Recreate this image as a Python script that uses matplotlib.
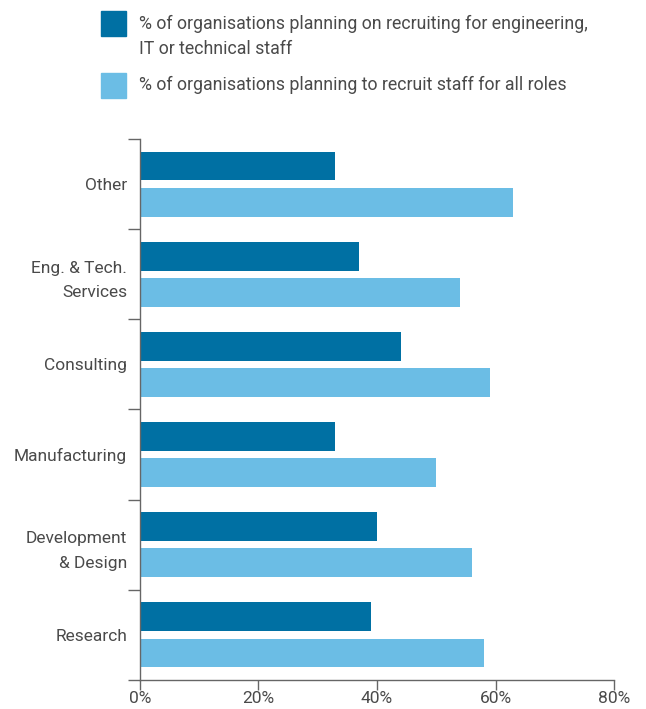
import numpy as np
import matplotlib
matplotlib.use("Agg")
import matplotlib.pyplot as plt
from matplotlib.patches import Rectangle

plt.rcParams["font.family"] = ["Roboto", "DejaVu Sans"]

# bottom to top
sectors = ["Research", "Development\n& Design", "Manufacturing", "Consulting",
           "Eng. & Tech.\nServices", "Other"]
tech_staff = [39, 40, 33, 44, 37, 33]
all_roles = [58, 56, 50, 59, 54, 63]
x_ticks = [0, 20, 40, 60, 80]

label_tech = ["% of organisations planning on recruiting for engineering,",
              "IT or technical staff"]
label_all = "% of organisations planning to recruit staff for all roles"

DARK = "#0070a3"
LIGHT = "#6bbde5"
AXIS = "#666666"
TEXT = "#4a4a4a"

fig = plt.figure(figsize=(6.46, 7.09), dpi=100)
ax = fig.add_axes([0.2163, 0.0409, 0.7346, 0.7631])

y = np.arange(len(sectors))
h = 0.32
ax.barh(y + 0.2, tech_staff, height=h, color=DARK)
ax.barh(y - 0.2, all_roles, height=h, color=LIGHT)

ax.set_xlim(0, 80)
ax.set_ylim(-0.5, len(sectors) - 0.5)
ax.set_xticks(x_ticks)
ax.set_xticklabels([f"{v}%" for v in x_ticks])
ax.set_yticks(y)
ax.set_yticklabels(sectors, ha="right", linespacing=1.8)
# tick marks sit between the category bands
ax.set_yticks(np.arange(len(sectors) + 1) - 0.5, minor=True)
ax.tick_params(axis="y", which="major", length=0, pad=9)
ax.tick_params(axis="y", which="minor", length=9, width=1, color=AXIS)
ax.tick_params(axis="x", length=7, width=1, color=AXIS, pad=1)
ax.tick_params(labelsize=12.5, labelcolor=TEXT)

for s in ("top", "right"):
    ax.spines[s].set_visible(False)
for s in ("left", "bottom"):
    ax.spines[s].set_color(AXIS)
    ax.spines[s].set_linewidth(1)

# legend drawn by hand at the top of the figure
def px(x, yy):
    return x / 646, 1 - yy / 709

fig.add_artist(Rectangle(px(101, 36), 25 / 646, 25 / 709,
                         transform=fig.transFigure, color=DARK))
fig.add_artist(Rectangle(px(101, 98), 25 / 646, 25 / 709,
                         transform=fig.transFigure, color=LIGHT))
for line, yy in zip(label_tech, [24, 49]):
    fig.text(*px(139, yy), line, ha="left", va="center", fontsize=12.8, color=TEXT)
fig.text(*px(139, 85), label_all, ha="left", va="center", fontsize=12.8, color=TEXT)

fig.savefig("out.png", dpi=100)
